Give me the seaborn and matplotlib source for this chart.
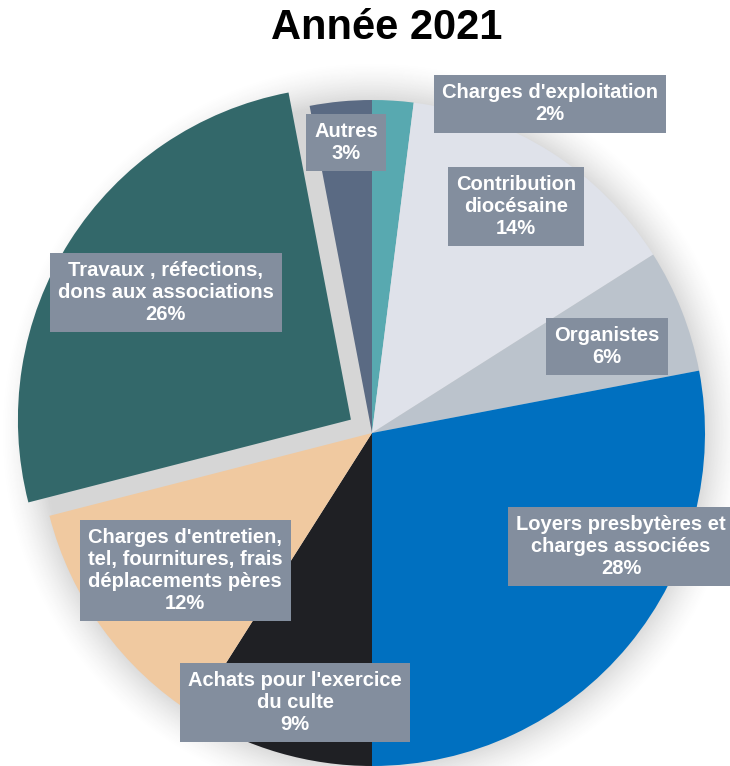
import matplotlib
matplotlib.use("Agg")
import matplotlib.pyplot as plt
import seaborn as sns
import numpy as np

# data
categories = [
    "Charges d'exploitation",
    "Contribution\ndiocésaine",
    "Organistes",
    "Loyers presbytères et\ncharges associées",
    "Achats pour l'exercice\ndu culte",
    "Charges d'entretien,\ntel, fournitures, frais\ndéplacements pères",
    "Travaux , réfections,\ndons aux associations",
    "Autres",
]
values = [2, 14, 6, 28, 9, 12, 26, 3]
explode = [0, 0, 0, 0, 0, 0, 0.075, 0]
colors = ["#58a9b0", "#dfe2ea", "#bbc3cc", "#0070c0",
          "#1f2024", "#f0c9a0", "#33686a", "#5a6a83"]

# label box centres in data units (pie radius = 1)
label_pos = [(0.535, 0.988), (0.432, 0.681), (0.706, 0.261), (0.748, -0.342),
             (-0.231, -0.810), (-0.561, -0.412), (-0.619, 0.423), (-0.078, 0.873)]

sns.set_theme(style="white")
plt.rcParams['font.family'] = ['Liberation Sans', 'DejaVu Sans']

fig = plt.figure(figsize=(7.3, 7.66), dpi=100)
ax = fig.add_axes([0, 0, 1, 1])
R_PX = 333.0
XL = (-372 / R_PX, (730 - 372) / R_PX)
YL = (-(766 - 433) / R_PX, 433 / R_PX)

# soft shadow behind the pie
n = 600
xs = np.linspace(-1.3, 1.3, n)
X, Y = np.meshgrid(xs, xs)
D = np.sqrt(X ** 2 + Y ** 2)
alpha = np.clip((1.12 - D) / 0.13, 0, 1) ** 1.5 * 0.2
img = np.zeros((n, n, 4))
img[..., :3] = 0.2
img[..., 3] = alpha
ax.imshow(img, extent=(-1.3, 1.3, -1.3, 1.3), origin="lower", zorder=0,
          interpolation="bilinear")

wedges, _ = ax.pie(values, colors=colors, explode=explode, startangle=90,
                   counterclock=False, radius=1.0, center=(0, 0),
                   wedgeprops={"linewidth": 0}, frame=True)
for w in wedges:
    w.set_zorder(2)
ax.set_xlim(*XL)
ax.set_ylim(*YL)
ax.set_aspect("equal")
ax.axis("off")

for name, val, (x, y) in zip(categories, values, label_pos):
    ax.text(x, y, "{}\n{}%".format(name, val), ha="center", va="center",
            color="white", fontsize=14.5, fontweight="bold", linespacing=1.2,
            zorder=5,
            bbox=dict(boxstyle="square,pad=0.4", fc="#838e9e", ec="none"))

fig.text(0.53, 0.963, "Année 2021", ha="center", va="center",
         fontsize=30, fontweight="bold", color="black")

fig.savefig("out.png", dpi=100)
